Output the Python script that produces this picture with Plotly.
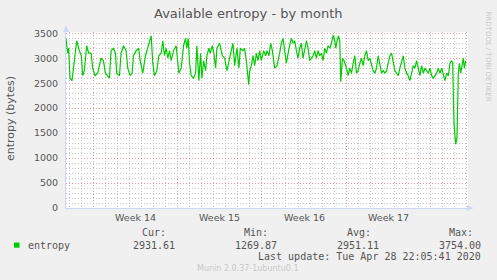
import pandas as pd
import plotly.graph_objects as go

# ---------------- data ----------------
START = "2020-03-26 16:48"          # left edge of the graph
RANGE_HOURS = 802.6                  # visible span
HOURS = [0, 3.3, 5.3, 8, 12, 16.7, 21.3, 26.7, 30.7, 33.3, 36.7, 41.3, 45.3, 50, 53.3, 58, 63.3, 70,
         74.7, 78.7, 83.3, 86.7, 90, 94.7, 98.7, 101.3, 106.7, 110, 114.7, 120, 123.3, 128, 132, 134.7,
         140, 145.3, 148, 153.3, 158.7, 165.3, 170, 173.3, 176.7, 181.3, 185.3, 190, 193.3, 196.7, 200,
         203.3, 206.7, 210, 214.7, 220, 225.3, 230, 234.7, 238.7, 241.3, 244, 246.7, 250, 254.7, 258.7,
         261.3, 265.3, 268.7, 271.3, 274.7, 278.7, 281.3, 285.3, 288, 292, 295.3, 298.7, 301.3, 306.7,
         312, 316.7, 321.3, 326.7, 333.3, 336.7, 341.3, 345.3, 348, 353.3, 356.7, 360, 363.3, 364.8,
         366.6, 370, 373.3, 376.6, 380, 383.3, 386.6, 390, 394.6, 398.6, 401.3, 405.3, 408.6, 412, 416.6,
         421.3, 426.6, 430, 433.3, 436.6, 440, 445.3, 450, 453.3, 456.6, 460, 463.3, 466.6, 470, 473.3,
         476.6, 480, 483.3, 486.6, 490, 493.3, 496.6, 500, 503.3, 506.6, 510, 513.3, 516.6, 520, 523.3,
         526.6, 530, 533.3, 536.6, 538.6, 541.3, 544, 546.6, 548.6, 552, 555.3, 560, 563.3, 566.6, 570,
         573.3, 576.6, 580, 583.3, 586.6, 590, 593.3, 596.6, 600, 603.3, 606.6, 610, 613.3, 616.6, 620,
         623.3, 626.6, 630, 633.3, 636.6, 640, 643.3, 646.6, 650, 653.3, 656.6, 660, 663.3, 666.6, 670,
         673.3, 676.6, 680, 683.3, 686.6, 690, 693.3, 696.6, 700, 703.3, 706.6, 710, 713.3, 716.6, 720,
         723.3, 726.6, 730, 733.3, 736.6, 740, 743.3, 746.6, 750, 753.3, 756.6, 760, 763.3, 766.6, 770,
         772, 774.6, 778, 780.6, 783.3, 785.3, 788, 791.3, 793.3, 795.3, 798]
ENTROPY = [3400, 3100, 3200, 2600, 2550, 2900, 3350, 3150, 3050, 2650, 2750, 3250, 3100, 3100, 2800, 2650,
           2700, 3000, 2950, 2700, 2650, 2600, 3150, 3200, 3100, 2700, 2650, 3100, 3250, 3150, 2800, 2650,
           2700, 3050, 3150, 3200, 2950, 2700, 3050, 3300, 3450, 2900, 2650, 2750, 3050, 3100, 3350, 3050,
           3200, 3000, 3150, 2950, 3150, 3250, 2700, 2800, 3250, 3400, 3200, 3400, 2900, 2650, 2600, 2700,
           3250, 2550, 3100, 2600, 2950, 2750, 3050, 3200, 3100, 3250, 3100, 2800, 3200, 3300, 3050, 3000,
           2750, 3000, 3300, 2850, 3200, 2800, 3200, 3150, 3200, 2950, 2600, 2470,
           2730, 2850, 3050, 2850, 3100, 2950, 3150, 2950, 3150, 3050, 3150, 3050, 3300, 3150, 2800,
           2850, 3100, 3300, 3400, 3150, 2900, 3200, 3400, 3300, 3350, 3150, 3000, 3200, 3300, 3000,
           3200, 3350, 3200, 2950, 3000, 3050, 3150, 3000, 3150, 3050, 3100, 2950, 3200, 3100, 3250,
           3200, 3300, 3460, 3350, 3200, 3350, 3450, 3350, 2530, 3000, 2950, 2800, 2650, 2800, 2700,
           2900, 3050, 2700, 2750, 2900, 3000, 2850, 3050, 3150, 2950, 3000, 2850, 2750, 2700, 2800,
           3050, 2850, 2700, 2750, 2700, 2750, 2900, 3050, 3100, 2950, 2750, 2700, 2650, 2800, 2950,
           3050, 2800, 2700, 2650, 2550, 2700, 2850, 2800, 2950, 2800, 2650, 2850, 2700, 2800, 2750,
           2700, 2800, 2650, 2600, 2650, 2700, 2800, 2700, 2800, 2650, 2550, 2700, 2650, 2900, 2950,
           2900, 1700, 1280, 1400, 2700, 2900, 2700, 2900, 3000, 2800, 2950]

WEEK_STARTS = ["2020-03-29", "2020-04-05", "2020-04-12", "2020-04-19"]
WEEK_LABELS = ["Week 14", "Week 15", "Week 16", "Week 17"]
Y_MAX = 3525

LEGEND_NAME = "entropy"
STAT_NAMES = ["Cur:", "Min:", "Avg:", "Max:"]
STAT_VALUES = ["2931.61", "1269.87", "2951.11", "3754.00"]
LAST_UPDATE = "Last update: Tue Apr 28 22:05:41 2020"
TITLE = "Available entropy - by month"
Y_TITLE = "entropy (bytes)"
VERSION = "Munin 2.0.37-1ubuntu0.1"
WATERMARK = "RRDTOOL / TOBI OETIKER"

# ---------------- figure ----------------
W, H = 497, 280
L, R, T, B = 66, 29, 32, 72
PW, PH = W - L - R, H - T - B


def px(x):
    return (x - L) / PW


def py(y):
    return (H - B - y) / PH


start = pd.Timestamp(START)
times = [start + pd.Timedelta(hours=h) for h in HOURS]
end = start + pd.Timedelta(hours=RANGE_HOURS)

TEXT = "#555555"
FAINT = "#c8c8c8"
AXIS = "#CFD6F8"
MGRID = "#F09A9A"
GRID = "#C4C4C4"
DASH = "1px,2px"

fig = go.Figure()
fig.add_trace(go.Scatter(x=times, y=ENTROPY, mode="lines",
                         line=dict(color="#00CC00", width=1.2), hoverinfo="skip",
                         showlegend=False))

fig.update_layout(
    width=W, height=H, autosize=False,
    margin=dict(l=L, r=R, t=T, b=B, pad=0),
    paper_bgcolor="#F0F0F0", plot_bgcolor="#FFFFFF",
    font=dict(family="DejaVu Sans", color=TEXT, size=9.5),
    showlegend=False,
)

fig.update_xaxes(
    type="date", range=[start, end],
    showgrid=True, gridcolor=MGRID, griddash=DASH, gridwidth=1,
    dtick=7 * 86400000, tick0="2020-03-29",
    showticklabels=False, ticks="",
    minor=dict(dtick=86400000, tick0="2020-03-29", showgrid=True,
               gridcolor=GRID, griddash=DASH, gridwidth=1),
    showline=True, linecolor=AXIS, linewidth=1, zeroline=False,
    fixedrange=True,
)
fig.update_yaxes(
    range=[0, Y_MAX], dtick=500, tick0=0,
    showgrid=True, gridcolor=MGRID, griddash=DASH, gridwidth=1,
    minor=dict(dtick=100, showgrid=True, gridcolor=GRID, griddash=DASH, gridwidth=1),
    ticks="", ticklabelstandoff=5,
    tickfont=dict(family="DejaVu Sans", size=9.5, color=TEXT),
    showline=True, linecolor=AXIS, linewidth=1, zeroline=False,
    fixedrange=True,
)

ann = []
# week labels, centred in each week
for ws, lab in zip(WEEK_STARTS, WEEK_LABELS):
    mid = pd.Timestamp(ws) + pd.Timedelta(hours=84)
    ann.append(dict(x=mid, xref="x", y=py(217.7), yref="paper", text=lab,
                    showarrow=False, xanchor="center", yanchor="middle",
                    font=dict(family="DejaVu Sans", size=9.5, color=TEXT)))

ann.append(dict(x=px(248.3), y=py(14), xref="paper", yref="paper", text=TITLE,
                showarrow=False, xanchor="center", yanchor="middle",
                font=dict(family="DejaVu Sans", size=13, color=TEXT)))
ann.append(dict(x=px(11), y=py(119), xref="paper", yref="paper", text=Y_TITLE,
                showarrow=False, xanchor="center", yanchor="middle", textangle=-90,
                font=dict(family="DejaVu Sans", size=11, color=TEXT)))
ann.append(dict(x=px(487.5), y=py(56), xref="paper", yref="paper", text=WATERMARK,
                showarrow=False, xanchor="center", yanchor="middle", textangle=90,
                font=dict(family="DejaVu Sans", size=7, color=FAINT)))

mono = dict(family="DejaVu Sans Mono", size=10, color=TEXT)
stat_name_left = [140, 241.5, 345, 446.5]
stat_val_right = [176.5, 278.5, 381, 482.8]
for name, xl in zip(STAT_NAMES, stat_name_left):
    ann.append(dict(x=px(xl), y=py(232.7), xref="paper", yref="paper", text=name,
                    showarrow=False, xanchor="left", yanchor="middle", font=mono))
for val, xr in zip(STAT_VALUES, stat_val_right):
    ann.append(dict(x=px(xr), y=py(245), xref="paper", yref="paper", text=val,
                    showarrow=False, xanchor="right", yanchor="middle", font=mono))
ann.append(dict(x=px(26), y=py(245), xref="paper", yref="paper", text=LEGEND_NAME,
                showarrow=False, xanchor="left", yanchor="middle", font=mono))
ann.append(dict(x=px(482.8), y=py(256.7), xref="paper", yref="paper", text=LAST_UPDATE,
                showarrow=False, xanchor="right", yanchor="middle", font=mono))
ann.append(dict(x=px(248), y=py(268.5), xref="paper", yref="paper", text=VERSION,
                showarrow=False, xanchor="center", yanchor="middle",
                font=dict(family="DejaVu Sans", size=8, color=FAINT)))
fig.update_layout(annotations=ann)

shapes = []
# legend colour box
shapes.append(dict(type="rect", xref="paper", yref="paper",
                   x0=px(14), x1=px(19.5), y0=py(247.7), y1=py(242.5),
                   fillcolor="#00CC00", line=dict(width=0)))
# axis arrows
shapes.append(dict(type="path", xref="paper", yref="paper",
                   path=f"M {px(63)} {py(32)} L {px(69)} {py(32)} L {px(66)} {py(25)} Z",
                   fillcolor=AXIS, line=dict(width=0)))
shapes.append(dict(type="path", xref="paper", yref="paper",
                   path=f"M {px(467)} {py(205)} L {px(467)} {py(211)} L {px(473.5)} {py(208)} Z",
                   fillcolor=AXIS, line=dict(width=0)))
fig.update_layout(shapes=shapes)

fig.write_html("out.html")
